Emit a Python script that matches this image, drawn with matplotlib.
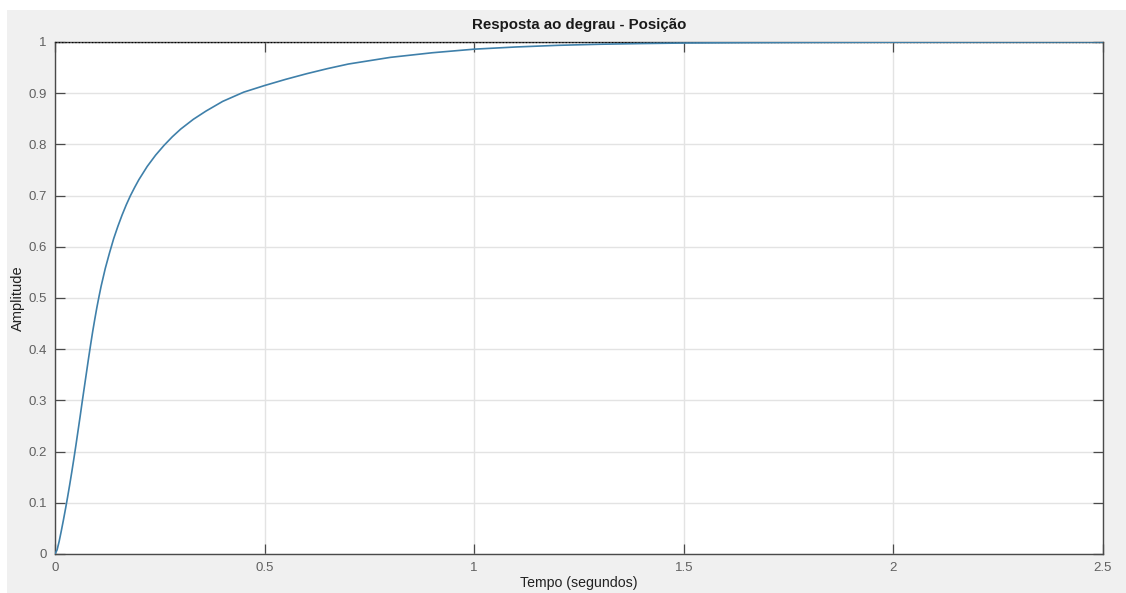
import matplotlib
matplotlib.use("Agg")
import matplotlib.pyplot as plt
from matplotlib.patches import Rectangle

plt.rcParams['font.family'] = ['Liberation Sans', 'DejaVu Sans']

# Step response samples (time in seconds, amplitude)
tempo = [0.000, 0.005, 0.010, 0.015, 0.020, 0.025, 0.030, 0.035, 0.040, 0.045,
         0.050, 0.055, 0.060, 0.065, 0.070, 0.075, 0.080, 0.085, 0.090, 0.095,
         0.100, 0.105, 0.110, 0.120, 0.130, 0.140, 0.150, 0.160, 0.170, 0.180,
         0.190, 0.200, 0.220, 0.240, 0.260, 0.280, 0.300, 0.330, 0.360, 0.400,
         0.450, 0.500, 0.550, 0.600, 0.650, 0.700, 0.800, 0.900, 1.000, 1.100,
         1.200, 1.300, 1.400, 1.500, 1.650, 1.800, 2.000, 2.250, 2.500]
amplitude = [0.000, 0.008, 0.025, 0.045, 0.066, 0.088, 0.111, 0.135, 0.160, 0.186,
             0.213, 0.241, 0.269, 0.298, 0.326, 0.354, 0.382, 0.409, 0.435, 0.459,
             0.482, 0.503, 0.523, 0.558, 0.588, 0.616, 0.640, 0.662, 0.682, 0.700,
             0.716, 0.731, 0.757, 0.779, 0.798, 0.815, 0.830, 0.849, 0.865, 0.884,
             0.902, 0.915, 0.927, 0.938, 0.948, 0.957, 0.970, 0.979, 0.986, 0.9903,
             0.9935, 0.9956, 0.9970, 0.9980, 0.9988, 0.9993, 0.9997, 0.9999, 1.000]
valor_final = 1.0

xticks = [0, 0.5, 1, 1.5, 2, 2.5]
xticklabels = ['0', '0.5', '1', '1.5', '2', '2.5']
yticks = [0, 0.1, 0.2, 0.3, 0.4, 0.5, 0.6, 0.7, 0.8, 0.9, 1]
yticklabels = ['0', '0.1', '0.2', '0.3', '0.4', '0.5', '0.6', '0.7', '0.8', '0.9', '1']

W, H = 1126, 593
fig = plt.figure(figsize=(W / 100, H / 100), dpi=100, facecolor='white')
# gray window background
fig.patches.append(Rectangle((7 / W, 0), 1 - 7 / W, (H - 10) / H,
                             transform=fig.transFigure, facecolor='#f0f0f0',
                             edgecolor='none', zorder=-10))

ax = fig.add_axes([55 / W, (H - 554) / H, (1103 - 55) / W, (554 - 42) / H])
ax.set_facecolor('white')

ax.plot([0, 2.5], [valor_final, valor_final], linestyle=':', color='black',
        linewidth=0.9, zorder=3)
ax.plot(tempo, amplitude, color='#3f80aa', linewidth=1.2, zorder=4,
        solid_joinstyle='round')

ax.set_xlim(0, 2.5)
ax.set_ylim(0, 1)
ax.set_xticks(xticks)
ax.set_xticklabels(xticklabels)
ax.set_yticks(yticks)
ax.set_yticklabels(yticklabels)

ax.grid(True, color='#e3e3e3', linewidth=1.0)
ax.set_axisbelow(True)
for s in ax.spines.values():
    s.set_color('#4a4a4a')
    s.set_linewidth(1.0)
ax.tick_params(direction='in', length=7, width=0.9, color='#4a4a4a',
               top=True, right=True, labelsize=9.5, labelcolor='#606060', pad=6)

ax.set_title('Resposta ao degrau - Posição', fontsize=10.8, fontweight='bold',
             color='#1a1a1a', pad=9)
ax.set_xlabel('Tempo (segundos)', fontsize=10.2, color='#222222', labelpad=1)
ax.set_ylabel('Amplitude', fontsize=10.5, color='#222222', labelpad=2)

fig.savefig('out.png', dpi=100, facecolor=fig.get_facecolor())
